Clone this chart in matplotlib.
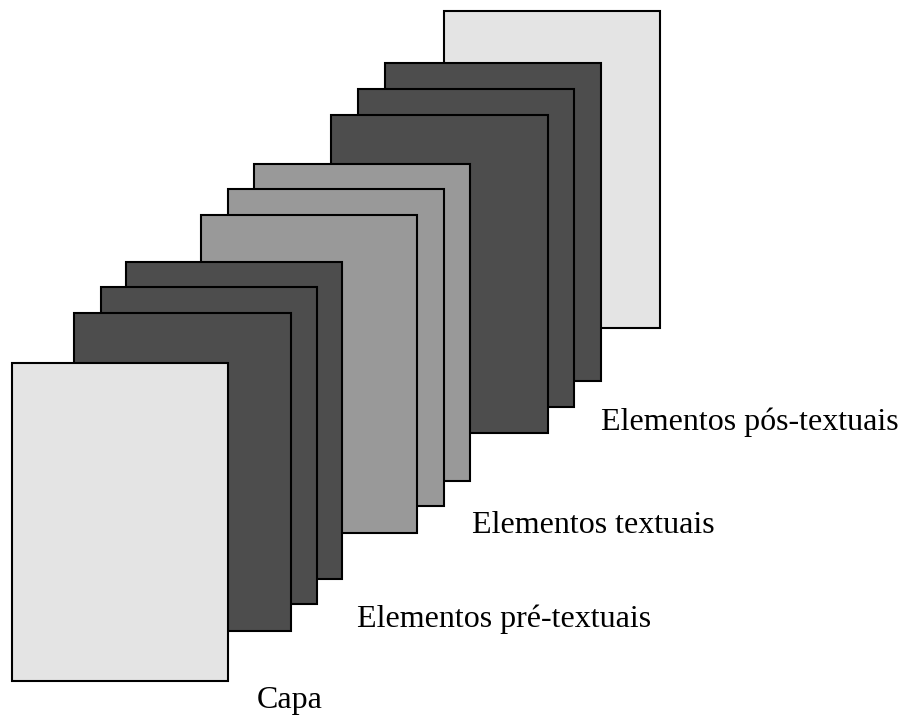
import matplotlib
matplotlib.use('Agg')
import matplotlib.pyplot as plt
from matplotlib.patches import Rectangle

# pages drawn back to front (pixel coords of top-left corner)
page_x = [444, 385, 358, 331, 254, 228, 201, 126, 101, 74, 12]
page_y = [11, 63, 89, 115, 164, 189, 215, 262, 287, 313, 363]
page_w = [216, 216, 216, 217, 216, 216, 216, 216, 216, 217, 216]
page_h = [317, 318, 318, 318, 317, 317, 318, 317, 317, 318, 318]
page_kind = ['pos', 'post', 'post', 'post', 'text', 'text', 'text', 'pre', 'pre', 'pre', 'capa']

kind_colors = {'pos': '#e4e4e4', 'post': '#4d4d4d', 'text': '#999999',
               'pre': '#4d4d4d', 'capa': '#e4e4e4'}

labels = ['Elementos pós-textuais', 'Elementos textuais', 'Elementos pré-textuais', 'Capa']
label_x = [601, 472, 357, 257]
label_y = [430, 533, 627, 708]  # baselines

fig = plt.figure(figsize=(9.01, 7.15), dpi=100)
ax = fig.add_axes([0, 0, 1, 1])
ax.set_xlim(0, 901)
ax.set_ylim(715, 0)
ax.axis('off')

for x, y, w, h, k in zip(page_x, page_y, page_w, page_h, page_kind):
    ax.add_patch(Rectangle((x, y), w, h, facecolor=kind_colors[k],
                           edgecolor='black', linewidth=1.5))

for txt, x, y in zip(labels, label_x, label_y):
    ax.text(x, y, txt, fontsize=23.0, family='Liberation Serif',
            ha='left', va='baseline')

fig.savefig('out.png', dpi=100)
